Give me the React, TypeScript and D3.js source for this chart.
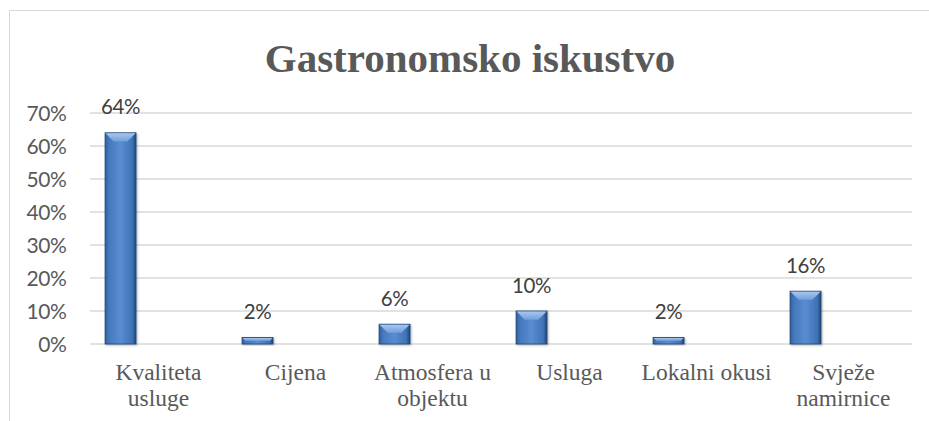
import React from "react";
import * as d3 from "d3";

const title = "Gastronomsko iskustvo";
const categories = ["Kvaliteta usluge", "Cijena", "Atmosfera u objektu", "Usluga", "Lokalni okusi", "Svježe namirnice"];
const values = [0.64, 0.02, 0.06, 0.10, 0.02, 0.16];
const yTicks = [0, 0.1, 0.2, 0.3, 0.4, 0.5, 0.6, 0.7];

const W = 929;
const H = 421;
const plot = { left: 90, right: 912, top: 113, bottom: 344 };
const catFont = "23.5px 'Liberation Serif', 'Times New Roman', serif";

function wrap(text: string, maxW: number): string[] {
  const canvas = document.createElement("canvas");
  const ctx = canvas.getContext("2d")!;
  ctx.font = catFont;
  const words = text.split(" ");
  const lines: string[] = [];
  let cur = "";
  for (const w of words) {
    const t = cur ? cur + " " + w : w;
    if (ctx.measureText(t).width > maxW && cur) {
      lines.push(cur);
      cur = w;
    } else cur = t;
  }
  if (cur) lines.push(cur);
  return lines;
}

export default function App() {
  const x = d3.scaleBand<string>().domain(categories).range([plot.left, plot.right]).padding(0);
  const y = d3.scaleLinear().domain([0, 0.7]).range([plot.bottom, plot.top]);
  const bw = x.bandwidth();
  const barOff = bw * 0.11;
  const barW = bw * 0.226;
  const fmt = d3.format(".0%");

  return (
    <div style={{ position: "absolute", left: 0, top: 0 }}>
      <svg width={W} height={H} style={{ display: "block", background: "#fff" }}>
        <defs>
          <linearGradient id="barBody" x1="0" x2="1" y1="0" y2="0">
            <stop offset="0" stopColor="#2e5d99" />
            <stop offset="0.12" stopColor="#4478bd" />
            <stop offset="0.5" stopColor="#5a8cd0" />
            <stop offset="0.88" stopColor="#3f72b6" />
            <stop offset="1" stopColor="#1f4677" />
          </linearGradient>
          <linearGradient id="barTop" x1="0" x2="0" y1="0" y2="1">
            <stop offset="0" stopColor="#a9c6ee" />
            <stop offset="1" stopColor="#6f9fdc" />
          </linearGradient>
          <filter id="shadow" x="-30%" y="-10%" width="160%" height="130%">
            <feDropShadow dx="1" dy="1" stdDeviation="1.2" floodColor="#000" floodOpacity="0.3" />
          </filter>
        </defs>
        <rect x={9.5} y={10.5} width={W + 20} height={H + 20} fill="#fff" stroke="#d9d9d9" strokeWidth={1} />
        <text x={470} y={72} textAnchor="middle" fontFamily="'Liberation Serif', 'Times New Roman', serif" fontWeight="bold" fontSize={41} fill="#595959">
          {title}
        </text>
        {yTicks.map((t) => (
          <g key={t}>
            <line x1={plot.left} x2={plot.right} y1={y(t)} y2={y(t)} stroke="#d9d9d9" strokeWidth={1.5} />
            <text x={66.5} y={y(t)} dy="0.38em" textAnchor="end" fontFamily="Lato, 'Open Sans', sans-serif" fontSize={21} letterSpacing={-0.4} fill="#595959">
              {fmt(t)}
            </text>
          </g>
        ))}
        {categories.map((c, i) => {
          const x0 = (x(c) as number) + barOff;
          const top = y(values[i]);
          const bot = y(0);
          const h = bot - top;
          const bev = Math.min(barW * 0.28, h / 2);
          const cx = x0 + barW / 2;
          return (
            <g key={c}>
              <g filter="url(#shadow)">
                <rect x={x0} y={top} width={barW} height={h} fill="url(#barBody)" stroke="#1f4677" strokeWidth={0.8} />
              </g>
              <polygon
                points={`${x0 + 0.5},${top + 0.5} ${x0 + barW - 0.5},${top + 0.5} ${x0 + barW - bev},${top + bev} ${x0 + bev},${top + bev}`}
                fill="url(#barTop)"
              />
              <text x={cx} y={top - 18.5} textAnchor="middle" fontFamily="Lato, 'Open Sans', sans-serif" fontSize={20.5} letterSpacing={-0.3} fill="#404040">
                {fmt(values[i])}
              </text>
            </g>
          );
        })}
        {categories.map((c) => {
          const lines = wrap(c, bw - 2);
          const cx = (x(c) as number) + bw / 2;
          return (
            <text key={c} x={cx} y={380} textAnchor="middle" fontFamily="'Liberation Serif', 'Times New Roman', serif" fontSize={23.5} fill="#595959">
              {lines.map((l, j) => (
                <tspan key={j} x={cx} dy={j === 0 ? 0 : 26}>
                  {l}
                </tspan>
              ))}
            </text>
          );
        })}
      </svg>
    </div>
  );
}
